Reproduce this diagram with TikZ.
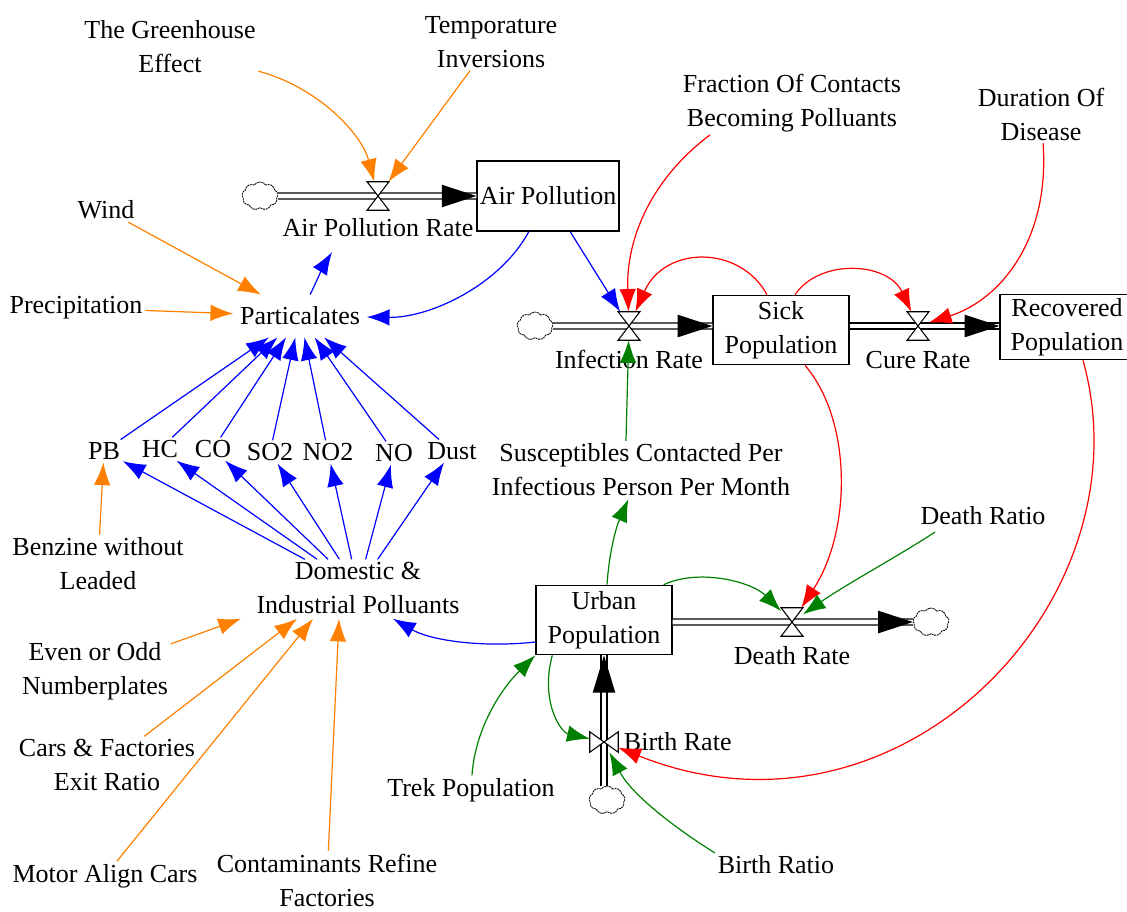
\documentclass[tikz,border=0pt]{standalone}
\usepackage{fontspec}
\setmainfont{Liberation Serif}
\usetikzlibrary{arrows.meta,shapes.symbols,calc}
\definecolor{vorange}{RGB}{255,128,0}
\definecolor{vblue}{RGB}{0,0,255}
\definecolor{vred}{RGB}{255,0,0}
\definecolor{vgreen}{RGB}{0,128,0}
\begin{document}
\begin{tikzpicture}[x=0.75pt,y=-0.75pt,
  every node/.style={font=\fontsize{19.5}{25.5}\selectfont, inner sep=2pt},
  lbl/.style={align=center},
  stock/.style={draw, line width=1pt, align=center, minimum width=102pt, minimum height=52pt},
  valve/.style={minimum width=16pt, minimum height=21pt, inner sep=0pt},
  hvalve/.style={minimum width=21pt, minimum height=15pt, inner sep=0pt},
  bowtie/.style={draw, fill=white, line width=0.8pt},
  cloudn/.style={cloud, cloud puffs=9, cloud puff arc=110, aspect=1.25, draw, line width=0.6pt, dash pattern=on 1.5pt off 0.5pt, minimum width=27pt, minimum height=21pt, inner sep=0pt},
  pipe/.style={draw, line width=0.95pt, double=white, double distance=3.7pt},
  link/.style={line width=0.9pt, -{Latex[length=17pt,width=12.5pt]}},
  ol/.style={link, color=vorange},
  bl/.style={link, color=vblue},
  rl/.style={link, color=vred},
  gl/.style={link, color=vgreen}
]
\useasboundingbox (0,0) rectangle (1127,911);

% ---------- variables ----------
\node[lbl] (GE) at (170,47) {The Greenhouse\\Effect};
\node[lbl] (TI) at (491,42) {Temporature\\Inversions};
\node[lbl] (FC) at (792,103) {Fraction Of Contacts\\Becoming Polluants};
\node[lbl] (DD) at (1041,114) {Duration Of\\Disease};
\node (W) at (106,210) {Wind};
\node (PR) at (76,308) {Precipitation};
\node[inner xsep=5pt, inner ysep=9pt] (PA) at (300,316) {Particalates};
\node[lbl] (SUS) at (641,470) {Susceptibles Contacted Per\\Infectious Person Per Month};
\node (PB) at (104,451) {PB};
\node (HC) at (160,449) {HC};
\node (CO) at (213,449) {CO};
\node (SO2) at (270,452) {SO2};
\node (NO2) at (328,452) {NO2};
\node (NO) at (394,453) {NO};
\node (Dust) at (452,451) {Dust};
\node[lbl] (BZ) at (98,564) {Benzine without\\Leaded};
\node[lbl] (DIP) at (358,588) {Domestic \&\\Industrial Polluants};
\node[lbl] (EO) at (95,671) {Even or Odd\\Numberplates};
\node[lbl] (CF) at (107,765) {Cars \& Factories\\Exit Ratio};
\node (MAC) at (105,876) {Motor Align Cars};
\node[lbl] (CRF) at (327,880) {Contaminants Refine\\Factories};
\node (TP) at (471,790) {Trek Population};
\node (DR) at (983,516) {Death Ratio};
\node (BRa) at (776,865) {Birth Ratio};

% ---------- stocks ----------
\node[stock, minimum width=101pt, minimum height=52.5pt] (AP) at (548,196) {Air Pollution};
\node[stock] (SP) at (781,330) {Sick\\Population};
\node[stock, minimum width=100.5pt, minimum height=49pt] (RP) at (1067,327) {Recovered\\Population};
\node[stock] (UP) at (604,620) {Urban\\Population};

% ---------- clouds ----------
\node[cloudn] (c1) at (260,196) {};
\node[cloudn] (c2) at (535,326) {};
\node[cloudn] (c3) at (931,622) {};
\node[cloudn] (c4) at (607,800) {};

% ---------- valves ----------
\node[valve] (APv) at (378,196) {};
\node[valve] (IRv) at (629,326) {};
\node[valve] (CRv) at (918,326) {};
\node[valve] (DRv) at (792,622) {};
\node[hvalve] (BRv) at (604,742) {};
\node (APRl) at (378,228) {Air Pollution Rate};
\node (IRl) at (629,359) {Infection Rate};
\node (CRl) at (918,360) {Cure Rate};
\node (DRl) at (792,656) {Death Rate};
\node[anchor=west] (BRl) at (621,742) {Birth Rate};

% ---------- pipes ----------
\draw[pipe] (c1) -- (AP);
\draw[pipe] (c2) -- (c2 -| SP.west);
\draw[pipe] (SP.east |- CRv) -- (RP.west |- CRv);
\draw[pipe] (UP.east |- DRv) -- (c3);
\draw[pipe] (BRv |- c4.north) -- (BRv |- UP.south);

\draw[bowtie] (APv.north west) -- (APv.north east) -- (APv.south west) -- (APv.south east) -- cycle;
\draw[bowtie] (IRv.north west) -- (IRv.north east) -- (IRv.south west) -- (IRv.south east) -- cycle;
\draw[bowtie] (CRv.north west) -- (CRv.north east) -- (CRv.south west) -- (CRv.south east) -- cycle;
\draw[bowtie] (DRv.north west) -- (DRv.north east) -- (DRv.south west) -- (DRv.south east) -- cycle;
\draw[bowtie] (BRv.north west) -- (BRv.south west) -- (BRv.north east) -- (BRv.south east) -- cycle;

\fill (AP.west) -- ++(-26pt,8.5pt) -- ++(0,-17pt) -- cycle;
\fill (c2 -| SP.west) -- ++(-26pt,8.5pt) -- ++(0,-17pt) -- cycle;
\fill (RP.west |- CRv) -- ++(-26pt,8.5pt) -- ++(0,-17pt) -- cycle;
\fill (c3.west) -- ++(-26pt,8.5pt) -- ++(0,-17pt) -- cycle;
\fill (BRv |- UP.south) -- ++(-8.5pt,-28pt) -- ++(17pt,0) -- cycle;

% ---------- orange links ----------
\draw[ol] (GE) .. controls (320,88) and (362,135) .. (APv);
\draw[ol] (TI) -- (APv);
\draw[ol] (W) -- (PA);
\draw[ol] (PR) -- (PA);
\draw[ol] (BZ) -- (PB);
\draw[ol] (EO) -- ($(DIP.south)+(-117,2)$);
\draw[ol] (CF) -- ($(DIP.south)+(-61,2)$);
\draw[ol] (MAC) -- ($(DIP.south)+(-45,2)$);
\draw[ol] (CRF) -- ($(DIP.south)+(-19,2)$);

% ---------- blue links ----------
\draw[bl] (PA) .. controls (318,278) and (324,265) .. ($(APRl.south)+(-46,12)$);
\draw[bl] (AP) .. controls (500,285) and (430,318) .. (PA);
\draw[bl] (AP) -- (IRv);
\foreach \n in {PB,HC,CO,SO2,NO2,NO,Dust}{
  \draw[bl] (\n) -- (PA);
  \draw[bl] (DIP) -- (\n);
}
\draw[bl] ($(UP.west)+(0,22)$) .. controls (480,648) and (430,640) .. ($(DIP.south)+(35,2)$);

% ---------- red links ----------
\draw[rl] ($(FC.south)+(-82,0)$) .. controls (650,180) and (626,240) .. (IRv);
\draw[rl] ($(SP.north)+(-14,0)$) .. controls (740,245) and (665,245) .. (IRv);
\draw[rl] ($(SP.north)+(14,0)$) .. controls (820,258) and (888,262) .. (CRv);
\draw[rl] (DD) .. controls (1050,240) and (1000,300) .. (CRv);
\draw[rl] ($(SP.south)+(24,0)$) .. controls (852,420) and (852,530) .. (DRv);
\draw[rl] ($(RP.south)+(16,0)$) .. controls (1150,600) and (900,860) .. (BRv);

% ---------- green links ----------
\draw[gl] ($(SUS.north)+(-15,0)$) -- (IRv);
\draw[gl] ($(UP.north)+(3,0)$) .. controls (609,555) and (615,530) .. (SUS);
\draw[gl] ($(UP.north east)+(-9,0)$) .. controls (700,568) and (752,582) .. (DRv);
\draw[gl] ($(DR.south)+(-48,4)$) .. controls (900,555) and (845,585) .. (DRv);
\draw[gl] ($(UP.south west)+(17,0)$) .. controls (540,700) and (560,732) .. (BRv);
\draw[gl] (TP) .. controls (475,730) and (500,690) .. (UP.south west);
\draw[gl] (BRa.north west) .. controls (675,828) and (632,795) .. (BRv);
\end{tikzpicture}
\end{document}
